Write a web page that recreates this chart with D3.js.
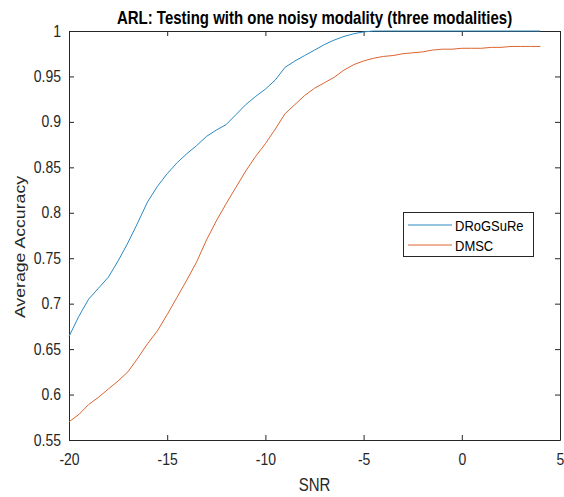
<!DOCTYPE html>
<html><head><meta charset="utf-8">
<script src="https://cdn.jsdelivr.net/npm/d3@7/dist/d3.min.js"></script>
<style>body{margin:0;background:#fff}svg{display:block}text{font-family:"Liberation Sans",Arial,Helvetica,sans-serif}</style>
</head><body>
<svg id="c" width="564" height="497"></svg>
<script>
const snr = [-20,-19.5,-19,-18.5,-18,-17.5,-17,-16.5,-16,-15.5,-15,-14.5,-14,-13.5,-13,-12.5,-12,-11.5,-11,-10.5,-10,-9.5,-9,-8.5,-8,-7.5,-7,-6.5,-6,-5.5,-5,-4.5,-4,-3.5,-3,-2.5,-2,-1.5,-1,-0.5,0,0.5,1,1.5,2,2.5,3,3.5,4];
const drogsure = [0.664,0.686,0.705,0.717,0.729,0.747,0.767,0.789,0.812,0.829,0.843,0.855,0.865,0.874,0.884,0.891,0.897,0.908,0.919,0.928,0.936,0.946,0.960,0.967,0.973,0.979,0.985,0.990,0.994,0.997,0.999,1.0,1.0,1.0,1.0,1.0,1.0,1.0,1.0,1.0,1.0,1.0,1.0,1.0,1.0,1.0,1.0,1.0,1.0];
const dmsc = [0.570,0.578,0.589,0.597,0.606,0.615,0.625,0.640,0.656,0.670,0.688,0.707,0.726,0.746,0.770,0.791,0.810,0.828,0.846,0.862,0.876,0.892,0.909,0.919,0.929,0.937,0.943,0.949,0.957,0.963,0.967,0.970,0.972,0.973,0.975,0.976,0.977,0.979,0.980,0.980,0.981,0.981,0.981,0.982,0.982,0.983,0.983,0.983,0.983];
const seriesNames = ["DRoGSuRe","DMSC"];
const seriesColors = ["#2a89c2","#dc6430"];
const xTicks = [-20,-15,-10,-5,0,5];
const yTicks = [0.55,0.6,0.65,0.7,0.75,0.8,0.85,0.9,0.95,1];
const titleText = "ARL: Testing with one noisy modality (three modalities)";
const xLabel = "SNR", yLabel = "Average Accuracy";

const L=69, R=560, T=31, B=440;
const SY=1.18; // vertical stretch of the original figure's text
const ink="#262626";
const svg=d3.select("#c");
const x=d3.scaleLinear().domain([-20,5]).range([L,R]);
const y=d3.scaleLinear().domain([0.55,1]).range([B,T]);

const fmt=d=>String(d);
const ax=svg.append("g").attr("transform",`translate(0,${B})`).call(d3.axisBottom(x).tickValues(xTicks).tickFormat(fmt).tickSizeInner(-5).tickSizeOuter(0).tickPadding(12));
const axT=svg.append("g").attr("transform",`translate(0,${T})`).call(d3.axisTop(x).tickValues(xTicks).tickFormat("").tickSizeInner(-5).tickSizeOuter(0));
const ay=svg.append("g").attr("transform",`translate(${L},0)`).call(d3.axisLeft(y).tickValues(yTicks).tickFormat(fmt).tickSizeInner(-5).tickSizeOuter(0).tickPadding(8));
const ayR=svg.append("g").attr("transform",`translate(${R},0)`).call(d3.axisRight(y).tickValues(yTicks).tickFormat("").tickSizeInner(-5).tickSizeOuter(0));
[ax,axT,ay,ayR].forEach(g=>{
  g.select(".domain").attr("stroke",ink).attr("stroke-width",1);
  g.selectAll(".tick line").attr("stroke",ink);
  g.selectAll(".tick text").attr("fill",ink).style("font-size","14px");
});
ax.selectAll(".tick text").attr("dy",null).attr("y",25/SY).attr("transform",`scale(1,${SY})`);
ay.selectAll(".tick text").attr("dy",null).attr("y",5/SY).attr("transform",`scale(1,${SY})`);

const line=d3.line().x((d,i)=>x(snr[i])).y(d=>y(d));
[drogsure,dmsc].forEach((s,k)=>{
  svg.append("path").datum(s).attr("d",line).attr("fill","none").attr("stroke",seriesColors[k]).attr("stroke-width",1);
});

function stext(px,py,txt,size,opts={}){
  const g=svg.append("g").attr("transform",`translate(${px},${py}) ${opts.rot?"rotate(-90)":""} scale(${opts.rot?SY:1},${opts.rot?1:SY})`);
  const t=g.append("text").attr("x",0).attr("y",0).attr("text-anchor",opts.anchor||"middle").style("font-size",size+"px").attr("fill",opts.fill||ink).text(txt);
  if(opts.bold) t.style("font-weight","bold");
  return t;
}
stext((L+R)/2,24,titleText,15,{bold:true,fill:"#000"});
stext((L+R)/2,491,xLabel,15);
stext(25,247,yLabel,15,{rot:true});

// legend
const lg=svg.append("g");
lg.append("rect").attr("x",403.5).attr("y",212.5).attr("width",130).attr("height",44).attr("fill","#fff").attr("stroke",ink).attr("stroke-width",1);
seriesNames.forEach((n,k)=>{
  const yy=225+k*20;
  lg.append("line").attr("x1",408).attr("x2",452).attr("y1",yy).attr("y2",yy).attr("stroke",seriesColors[k]).attr("stroke-width",1);
  stext(455,yy+5.5,n,13,{anchor:"start",fill:"#000"});
});
</script>
</body></html>
